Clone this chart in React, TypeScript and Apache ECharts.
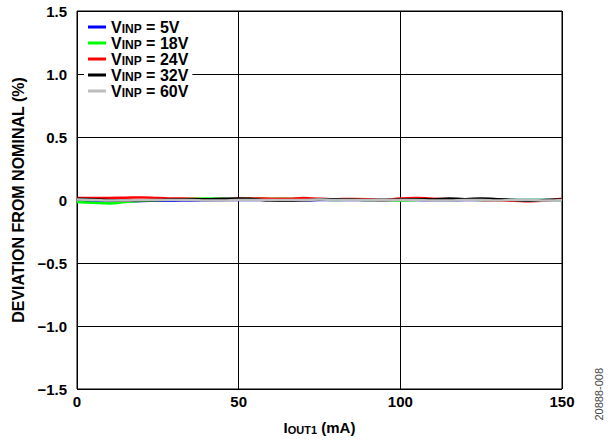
import React, { useEffect, useRef } from "react";
import * as echarts from "echarts";

const currents = [0, 5, 10, 15, 20, 25, 30, 35, 40, 45, 50, 55, 60, 65, 70, 75, 80, 85, 90, 95, 100, 105, 110, 115, 120, 125, 130, 135, 140, 145, 150];

const v5 = [-0.01, -0.01, -0.01, -0.01, -0.008, -0.006, -0.005, -0.004, -0.003, -0.002, 0, 0, 0, -0.002, -0.002, 0, 0, 0, 0, 0, 0, 0, -0.002, -0.002, 0, 0, 0, 0, 0, 0, 0];
const v18 = [-0.015, -0.022, -0.027, -0.015, -0.006, 0, 0.004, 0.01, 0.012, 0.01, 0.005, 0.01, 0.008, 0.01, 0.006, 0.005, 0, 0.004, 0, 0, -0.004, 0, 0.006, 0, 0.005, 0, 0, 0, 0, 0, 0];
const v24 = [0.015, 0.016, 0.016, 0.018, 0.02, 0.016, 0.012, 0.01, 0.006, 0.006, 0.01, 0.012, 0.01, 0.01, 0.015, 0.01, 0.006, 0.008, 0.006, 0, 0.012, 0.016, 0.01, 0.006, 0.004, 0, -0.005, -0.006, -0.01, -0.004, 0.01];
const v32 = [0.01, 0.005, 0, -0.006, -0.002, 0, 0.004, 0.005, 0.006, 0.01, 0.012, 0.006, -0.004, -0.006, -0.002, 0.004, 0.006, 0.004, 0, 0, 0.004, 0.006, 0.004, 0.012, 0.006, 0.012, 0.006, 0, -0.006, 0, 0.004];
const v60 = [0.004, 0, -0.004, -0.004, 0, 0, 0, 0, -0.004, -0.004, 0, 0, 0, 0, 0, 0.004, 0, 0, 0, 0, 0, 0, -0.004, -0.004, 0, 0, -0.004, 0, 0, -0.004, 0];

const seriesNames = ["5V", "18V", "24V", "32V", "60V"];
const seriesColors = ["#0000ff", "#00ff00", "#ff0000", "#000000", "#bdbdbd"];
const seriesData = [v5, v18, v24, v32, v60];

const xTicks = ["0", "50", "100", "150"];
const yTicks = ["−1.5", "−1.0", "−0.5", "0", "0.5", "1.0", "1.5"];

const FONT = "Liberation Sans, Arial, sans-serif";

export default function App() {
  const ref = useRef<HTMLDivElement>(null);
  useEffect(() => {
    if (!ref.current) return;
    const chart = echarts.init(ref.current, null, { renderer: "svg" });
    const option: any = {
      animation: false,
      backgroundColor: "#ffffff",
      grid: {
        left: 77,
        right: 46,
        top: 11,
        bottom: 51,
        show: true,
        borderColor: "#000",
        borderWidth: 1,
        backgroundColor: "transparent",
        containLabel: false,
        outerBoundsMode: "none",
      },
      legend: {
        orient: "vertical",
        left: 84,
        top: 18,
        backgroundColor: "#ffffff",
        padding: [1, 4, 1, 4],
        itemGap: 0,
        itemWidth: 18,
        itemHeight: 3,
        icon: "rect",
        data: seriesNames.map((n) => ({ name: n, icon: "rect" })),
        formatter: (name: string) => `{v|V}{s|INP}{v| = ${name}}`,
        textStyle: {
          fontFamily: FONT,
          fontWeight: "bold",
          fontSize: 16,
          color: "#000",
          rich: {
            v: { fontSize: 16, fontWeight: "bold", fontFamily: FONT, color: "#000", lineHeight: 16, verticalAlign: "middle" },
            s: { fontSize: 12, fontWeight: "bold", fontFamily: FONT, color: "#000", lineHeight: 12, verticalAlign: "bottom", padding: [4, 0, 0, 0] },
          },
        },
      },
      xAxis: {
        type: "value",
        min: 0,
        max: 150,
        interval: 50,
        axisLine: { show: false },
        axisTick: { show: false },
        splitLine: { show: true, lineStyle: { color: "#000", width: 1 } },
        axisLabel: {
          formatter: (v: number) => xTicks[Math.round(v / 50)] ?? "",
          fontFamily: FONT,
          fontWeight: "bold",
          fontSize: 15,
          color: "#000",
          margin: 5,
        },
        name: "{v|I}{s|OUT1}{v| (mA)}",
        nameLocation: "middle",
        nameGap: 30,
        nameTextStyle: {
          fontFamily: FONT,
          fontWeight: "bold",
          fontSize: 15,
          color: "#000",
          rich: {
            v: { fontSize: 15, fontWeight: "bold", fontFamily: FONT, color: "#000", lineHeight: 16 },
            s: { fontSize: 11, fontWeight: "bold", fontFamily: FONT, color: "#000", lineHeight: 12, verticalAlign: "bottom", padding: [4, 0, 0, 0] },
          },
        },
      },
      yAxis: {
        type: "value",
        min: -1.5,
        max: 1.5,
        interval: 0.5,
        axisLine: { show: false },
        axisTick: { show: false },
        splitLine: { show: true, lineStyle: { color: "#000", width: 1 } },
        axisLabel: {
          formatter: (v: number) => yTicks[Math.round((v + 1.5) / 0.5)] ?? "",
          fontFamily: FONT,
          fontWeight: "bold",
          fontSize: 15,
          color: "#000",
          margin: 10,
        },
        name: "DEVIATION FROM NOMINAL (%)",
        nameLocation: "middle",
        nameGap: 43,
        nameTextStyle: {
          fontFamily: FONT,
          fontWeight: "bold",
          fontSize: 16,
          color: "#000",
        },
      },
      series: seriesNames.map((n, i) => ({
        name: n,
        type: "line",
        data: currents.map((c, j) => [c, seriesData[i][j]]),
        showSymbol: false,
        symbol: "none",
        smooth: true,
        lineStyle: { color: seriesColors[i], width: 2.5 },
        itemStyle: { color: seriesColors[i] },
        z: 2 + i,
      })),
      graphic: [
        {
          type: "text",
          left: 593,
          top: 368,
          rotation: Math.PI / 2,
          style: {
            text: "20888-008",
            fontFamily: FONT,
            fontSize: 11,
            fill: "#444",
          },
        },
      ],
    };
    chart.setOption(option);
    return () => chart.dispose();
  }, []);
  return (
    <div
      ref={ref}
      style={{ position: "fixed", left: 0, top: 0, width: 608, height: 440, background: "#fff" }}
    />
  );
}
